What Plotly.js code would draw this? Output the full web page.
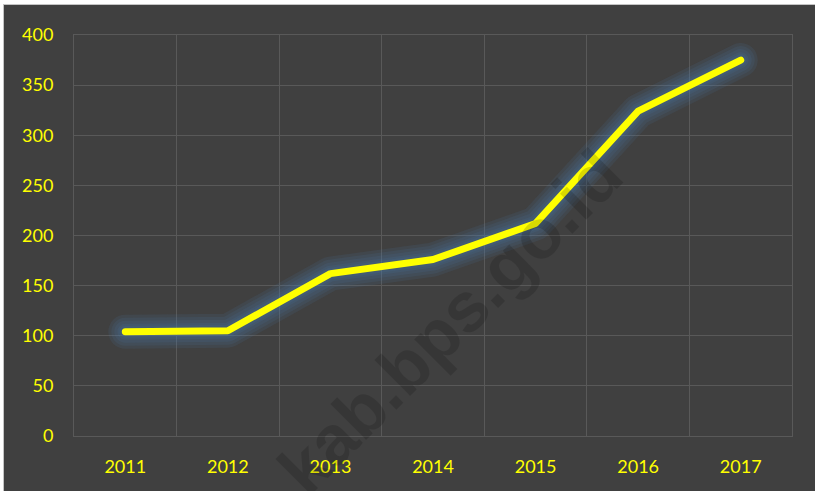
<!DOCTYPE html>
<html>
<head>
<meta charset="utf-8">
<script src="https://cdn.plot.ly/plotly-3.0.1.min.js"></script>
<style>
  html, body { margin: 0; padding: 0; background: #ffffff; width: 815px; height: 491px; overflow: hidden; }
  #chart { position: absolute; left: 3px; top: 4px; width: 811px; height: 486px;
           border-left: 1px solid #c4c4c4; border-top: 1px solid #c4c4c4; }
  .js-line { stroke-linecap: round; stroke-linejoin: round; }
</style>
</head>
<body>
<div id="chart"></div>
<script>
const years = ['2011', '2012', '2013', '2014', '2015', '2016', '2017'];
const values = [104, 105, 162, 176, 212, 324, 375];
const yTicks = [0, 50, 100, 150, 200, 250, 300, 350, 400];
const watermark = 'kab.bps.go.id';

const glowWidths = [34, 28, 22, 16, 12];
const glowTraces = glowWidths.map(w => ({
  x: years, y: values, type: 'scatter', mode: 'lines',
  line: { color: 'rgba(75,125,175,0.12)', width: w },
  hoverinfo: 'skip', showlegend: false
}));
const mainLine = {
  x: years, y: values, type: 'scatter', mode: 'lines',
  line: { color: '#ffff00', width: 7 },
  showlegend: false
};

const layout = {
  width: 811, height: 486,
  margin: { l: 70, r: 23, t: 30, b: 55 },
  paper_bgcolor: '#404040',
  plot_bgcolor: '#404040',
  font: { family: 'Lato, "Open Sans", sans-serif', color: '#ffff00', size: 18 },
  xaxis: {
    type: 'category',
    tickson: 'boundaries',
    showgrid: true, gridcolor: '#595959', gridwidth: 1,
    showline: true, linecolor: '#595959', mirror: true,
    ticks: '', ticklabelstandoff: 14,
    tickfont: { color: '#ffff00', size: 18 },
    range: [-0.5, 6.5], fixedrange: true
  },
  yaxis: {
    range: [0, 400], tickvals: yTicks, ticktext: yTicks.map(String),
    showgrid: true, gridcolor: '#595959', gridwidth: 1,
    zeroline: true, zerolinecolor: '#595959', zerolinewidth: 1,
    showline: true, linecolor: '#595959', mirror: true,
    ticks: '', ticklabelstandoff: 16,
    tickfont: { color: '#ffff00', size: 18 },
    fixedrange: true
  },
  annotations: [{
    text: '<b>' + watermark + '</b>',
    xref: 'paper', yref: 'paper', x: 0.524, y: -0.19,
    showarrow: false, textangle: -45,
    font: { family: '"Liberation Sans", Arial, sans-serif', size: 70, color: 'rgba(0,0,0,0.15)' }
  }]
};

Plotly.newPlot('chart', glowTraces.concat([mainLine]), layout, { staticPlot: true, displayModeBar: false });
</script>
</body>
</html>
